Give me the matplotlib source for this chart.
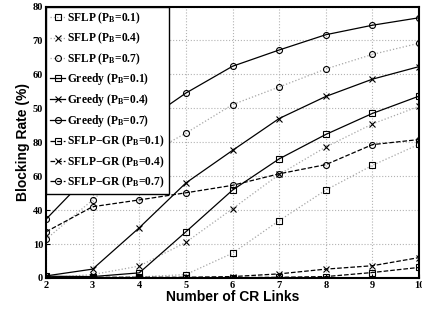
import matplotlib
matplotlib.use('Agg')
import matplotlib.pyplot as plt

# number of CR links
links = [2, 3, 4, 5, 6, 7, 8, 9, 10]

# blocking rate (%)
sflp_01 = [0.0, 0.0, 0.3, 1.0, 7.3, 16.9, 25.9, 33.2, 39.4]
sflp_04 = [0.0, 1.0, 3.5, 10.5, 20.4, 30.5, 38.6, 45.4, 50.6]
sflp_07 = [11.4, 23.0, 35.0, 42.7, 51.1, 56.3, 61.6, 65.9, 69.2]
greedy_01 = [0.5, 0.4, 1.5, 13.6, 25.9, 35.1, 42.3, 48.5, 53.6]
greedy_04 = [0.6, 2.6, 14.8, 28.0, 37.6, 47.0, 53.5, 58.6, 62.3]
greedy_07 = [17.3, 31.5, 45.0, 54.5, 62.4, 67.2, 71.7, 74.5, 76.7]
gr_01 = [0.1, 0.1, 0.1, 0.1, 0.1, 0.2, 0.4, 1.6, 3.1]
gr_04 = [0.2, 0.2, 0.2, 0.2, 0.4, 1.2, 2.6, 3.6, 6.0]
gr_07 = [13.6, 21.0, 23.0, 25.1, 27.3, 30.7, 33.4, 39.3, 40.8]

# y tick labels as printed in the original (they are garbled there)
ytick_vals = [0, 10, 20, 30, 40, 50, 60, 70, 80]
ytick_text = ['0', '10', '40', '60', '80', '50', '60', '70', '80']

fig = plt.figure(figsize=(4.22, 3.13), dpi=100)
ax = fig.add_axes([0.109, 0.112, 0.884, 0.867])

ms = 4.3
series = [
    (sflp_01, 's', ':', '0.65', 'SFLP (P$_\\mathbf{B}$=0.1)'),
    (sflp_04, 'x', ':', '0.65', 'SFLP (P$_\\mathbf{B}$=0.4)'),
    (sflp_07, 'o', ':', '0.65', 'SFLP (P$_\\mathbf{B}$=0.7)'),
    (greedy_01, 's', '-', 'k', 'Greedy (P$_\\mathbf{B}$=0.1)'),
    (greedy_04, 'x', '-', 'k', 'Greedy (P$_\\mathbf{B}$=0.4)'),
    (greedy_07, 'o', '-', 'k', 'Greedy (P$_\\mathbf{B}$=0.7)'),
    (gr_01, 's', '--', 'k', 'SFLP$-$GR (P$_\\mathbf{B}$=0.1)'),
    (gr_04, 'x', '--', 'k', 'SFLP$-$GR (P$_\\mathbf{B}$=0.4)'),
    (gr_07, 'o', '--', 'k', 'SFLP$-$GR (P$_\\mathbf{B}$=0.7)'),
]
for y, m, ls, c, lab in series:
    ax.plot(links, y, linestyle=ls, color=c, linewidth=0.9, marker=m,
            markersize=ms, markerfacecolor='none', markeredgecolor='k',
            markeredgewidth=0.8, label=lab)

ax.set_xlim(2, 10)
ax.set_ylim(0, 80)
ax.set_xticks(links)
ax.set_yticks(ytick_vals)
ax.set_yticklabels(ytick_text)
ax.grid(True, linestyle=':', color='0.7', linewidth=0.8)
ax.tick_params(direction='in', length=3, pad=2)
for lab in ax.get_xticklabels() + ax.get_yticklabels():
    lab.set_family(['Liberation Serif', 'DejaVu Serif'])
    lab.set_fontweight('bold')
    lab.set_fontsize(7.5)
for sp in ax.spines.values():
    sp.set_linewidth(1.5)

ax.set_xlabel('Number of CR Links', family='Liberation Sans', fontweight='bold',
              fontsize=10, labelpad=0)
ax.set_ylabel('Blocking Rate (%)', family='Liberation Sans', fontweight='bold',
              fontsize=10, labelpad=2)

plt.rcParams['mathtext.fontset'] = 'custom'
plt.rcParams['mathtext.rm'] = 'Liberation Serif:bold'
plt.rcParams['mathtext.it'] = 'Liberation Serif:bold'
plt.rcParams['mathtext.bf'] = 'Liberation Serif:bold'

leg = ax.legend(loc='upper left', borderaxespad=0.0, fancybox=False,
                framealpha=1, edgecolor='k', handlelength=1.3,
                handletextpad=0.2, labelspacing=0.42, borderpad=0.35,
                prop={'family': 'Liberation Serif', 'weight': 'bold', 'size': 8.3})
leg.get_frame().set_linewidth(1.0)

fig.savefig('out.png', dpi=100)
